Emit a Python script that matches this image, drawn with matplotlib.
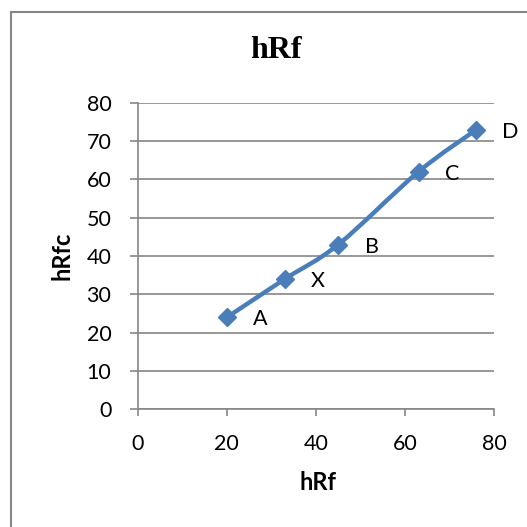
import numpy as np
import matplotlib.pyplot as plt
from matplotlib.path import Path
from matplotlib.patches import PathPatch, Rectangle

# data
hrf = [20, 33, 45, 63, 76]
hrfc = [24, 34, 43, 62, 73]
names = ["A", "X", "B", "C", "D"]

xticks = [0, 20, 40, 60, 80]
yticks = [0, 10, 20, 30, 40, 50, 60, 70, 80]

blue = "#4A7EBB"
grey = "#868686"
sans = ["Lato", "DejaVu Sans"]

fig = plt.figure(figsize=(5.27, 5.27), dpi=100)
fig.patches.append(Rectangle((11 / 527, -0.1), 1.2, 1 - 12 / 527 + 0.1,
                             transform=fig.transFigure, fill=False,
                             edgecolor=grey, lw=1.5))
ax = fig.add_axes([0.2613, 0.2233, 0.6767, 0.5818])

# smoothed line (excel style bezier)
pts = np.column_stack([hrf, hrfc]).astype(float)
n = len(pts)
verts = [pts[0]]
codes = [Path.MOVETO]
for i in range(n - 1):
    p0 = pts[max(i - 1, 0)]
    p1 = pts[i]
    p2 = pts[i + 1]
    p3 = pts[min(i + 2, n - 1)]
    verts += [p1 + (p2 - p0) / 6, p2 - (p3 - p1) / 6, p2]
    codes += [Path.CURVE4] * 3
ax.add_patch(PathPatch(Path(verts, codes), fill=False, edgecolor=blue,
                       lw=3.2, capstyle="round", joinstyle="round", zorder=3))
ax.plot(hrf, hrfc, ls="none", marker="D", ms=9.5, color=blue, zorder=4)

for x, y, s in zip(hrf, hrfc, names):
    ax.annotate(s, (x, y), xytext=(24, -1.5), textcoords="offset points",
                ha="center", va="center", fontsize=15.5, family=sans)

ax.set_xlim(0, 80)
ax.set_ylim(0, 80)
ax.set_xticks(xticks)
ax.set_yticks(yticks)
ax.set_xticklabels([str(t) for t in xticks], family=sans, fontsize=15.5)
ax.set_yticklabels([str(t) for t in yticks], family=sans, fontsize=15.5)
ax.yaxis.grid(True, color=grey, lw=1.2)
ax.set_axisbelow(True)
for s in ["top", "right"]:
    ax.spines[s].set_visible(False)
for s in ["left", "bottom"]:
    ax.spines[s].set_color(grey)
    ax.spines[s].set_linewidth(1.2)
ax.tick_params(axis="y", length=6, width=1.2, color=grey, pad=13)
ax.tick_params(axis="x", length=5, width=1.2, color=grey, pad=13)

fig.text(62 / 527, 1 - 256 / 527, "hRfc", rotation=90, ha="center",
         va="center", fontsize=17, fontweight="bold", family=sans)
fig.text(318 / 527, 1 - 483 / 527, "hRf", ha="center", va="center",
         fontsize=17, fontweight="bold", family=sans)
fig.text(276 / 527, 1 - 50 / 527, "hRf", ha="center", va="center",
         fontsize=23, fontweight="bold", family="Liberation Serif")

fig.savefig("out.png", dpi=100)
